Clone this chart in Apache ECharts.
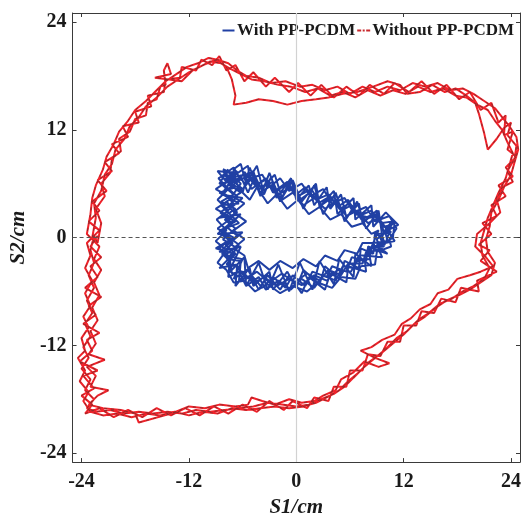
<!DOCTYPE html>
<html>
<head>
<meta charset="utf-8">
<script src="https://cdn.jsdelivr.net/npm/echarts@6/dist/echarts.min.js"></script>
<style>
  html, body { margin: 0; padding: 0; background: #ffffff; }
  #chart { width: 526px; height: 523px; }
</style>
</head>
<body>
<div id="chart"></div>
<script>
// Tick positions shared by both axes (cm)
const tickValues = [-24, -12, 0, 12, 24];
const axisMin = -25;
const axisMax = 25;

// Trajectory with PP-PCDM: laps around the small loop, [S1, S2] in cm
const blueLap1 = [[-7.8,7.0],[-6.5,6.2],[-5.8,7.3],[-4.6,5.8],[-3.5,6.4],[-2.4,5.0],[-1.2,5.9],[0.2,4.6],[1.3,5.2],[2.6,3.9],[3.8,4.6],[5.0,3.0],[6.2,3.6],[7.3,2.0],[8.6,2.6],[9.8,1.2],[10.6,1.4],[9.6,0.2],[9.9,-0.8],[8.4,-1.0],[8.2,-2.4],[6.8,-2.6],[6.1,-3.8],[4.6,-3.6],[3.4,-4.8],[2.0,-4.2],[0.6,-5.3],[-0.8,-4.6],[-2.2,-5.4],[-3.6,-4.4],[-4.8,-5.1],[-6.0,-3.8],[-7.2,-4.0],[-7.4,-2.6],[-8.3,-1.8],[-7.1,-0.6],[-8.4,0.4],[-7.2,1.6],[-8.5,2.8],[-7.0,3.8],[-8.2,5.0],[-7.4,6.2],[-8.0,7.0]];
const blueLap2 = [[-7.2,6.4],[-6.0,5.4],[-5.0,6.6],[-4.0,5.0],[-2.8,5.8],[-1.6,4.2],[-0.4,5.0],[0.8,3.6],[2.0,4.4],[3.2,3.2],[4.4,4.0],[5.6,2.4],[6.8,3.0],[8.0,1.6],[9.2,2.2],[10.2,0.8],[9.0,-0.2],[9.4,-1.4],[7.8,-1.6],[7.4,-2.9],[5.8,-2.9],[5.0,-4.2],[3.6,-3.6],[2.6,-4.8],[1.2,-4.0],[-0.2,-5.0],[-1.6,-4.0],[-3.0,-5.0],[-4.4,-3.8],[-5.6,-4.6],[-6.6,-3.2],[-7.8,-3.0],[-6.8,-1.8],[-7.9,-0.8],[-6.6,0.2],[-7.8,1.2],[-6.4,2.4],[-7.6,3.4],[-6.6,4.6],[-7.8,5.6],[-6.8,6.8]];
const blueLap3 = [[-8.2,7.6],[-6.8,7.0],[-5.4,8.0],[-5.2,6.6],[-3.8,7.0],[-3.0,5.6],[-1.8,6.6],[-0.8,5.2],[0.6,6.0],[1.6,4.6],[3.0,5.4],[4.0,3.8],[5.4,4.4],[6.4,2.8],[7.8,3.4],[8.8,1.8],[10.4,2.4],[11.2,1.0],[10.4,-0.2],[10.6,-1.0],[9.0,-1.6],[8.8,-3.0],[7.2,-3.2],[6.6,-4.6],[5.0,-4.4],[4.0,-5.6],[2.4,-5.0],[1.2,-6.0],[-0.4,-5.4],[-1.8,-6.2],[-3.2,-5.2],[-4.6,-6.0],[-5.8,-4.8],[-7.0,-5.0],[-7.8,-3.6],[-8.8,-2.8],[-7.8,-1.4],[-9.0,-0.4],[-7.8,0.8],[-8.9,2.0],[-7.6,3.0],[-8.8,4.2],[-7.6,5.4],[-8.7,6.6],[-7.4,7.4]];
const blueLap4 = [[-8.4,6.8],[-7.0,7.8],[-6.2,6.4],[-4.8,7.4],[-4.2,5.4],[-2.6,6.2],[-2.0,4.8],[-0.6,5.6],[0.4,4.2],[1.8,5.2],[2.8,3.6],[4.2,4.6],[4.8,3.2],[6.0,3.8],[7.0,2.4],[8.4,3.0],[9.4,1.6],[10.8,1.8],[10.0,0.4],[10.2,-0.4],[8.6,-0.6],[8.0,-2.0],[7.0,-2.0],[6.4,-3.4],[5.2,-3.2],[4.4,-4.8],[3.0,-4.2],[2.0,-5.6],[0.6,-4.6],[-0.6,-5.8],[-2.0,-4.8],[-3.4,-5.8],[-4.2,-4.4],[-5.6,-5.4],[-6.4,-3.8],[-7.6,-4.4],[-7.4,-2.2],[-8.6,-1.2],[-7.4,-0.2],[-8.2,1.0],[-6.8,1.8],[-8.0,2.4],[-6.8,3.2],[-8.4,4.0],[-7.0,4.8],[-8.2,5.8],[-6.6,7.2],[-8.2,7.4]];
const blueLap5 = [[-7.6,6.6],[-5.8,7.0],[-5.0,5.4],[-3.4,6.6],[-2.6,5.0],[-1.0,6.2],[0.0,4.8],[1.0,5.6],[2.2,4.2],[3.6,4.8],[4.6,3.4],[5.8,4.2],[6.6,2.6],[8.2,2.2],[9.0,2.6],[9.6,1.4],[10.6,0.6],[9.2,0.4],[9.8,-1.0],[8.0,-1.2],[7.8,-2.6],[6.2,-2.2],[5.6,-3.8],[4.0,-3.2],[3.4,-4.4],[1.8,-3.8],[1.0,-5.4],[-0.4,-4.2],[-1.2,-5.6],[-2.6,-4.4],[-3.8,-5.6],[-5.0,-4.2],[-6.4,-4.8],[-6.2,-2.6],[-7.8,-2.4],[-6.6,-1.2],[-8.2,-0.2],[-6.8,1.0],[-8.0,2.0],[-6.6,2.8],[-7.8,4.0],[-6.2,5.0],[-7.6,6.0],[-7.0,6.8]];
const blueLap6 = [[-7.0,7.6],[-6.2,8.2],[-5.6,6.0],[-4.4,8.0],[-3.8,5.6],[-2.4,7.0],[-1.6,4.4],[-0.4,6.4],[0.6,4.0],[2.2,6.0],[2.6,3.4],[4.2,5.2],[4.6,2.6],[6.4,4.4],[6.6,2.0],[8.4,3.6],[8.6,1.2],[10.0,2.8],[11.4,1.4],[10.2,0.8],[11.0,-0.4],[9.0,-0.8],[9.6,-2.2],[7.6,-2.0],[7.8,-3.8],[5.8,-3.2],[5.6,-5.0],[3.8,-4.0],[3.2,-5.8],[1.4,-4.4],[0.6,-6.2],[-0.8,-4.2],[-1.8,-5.8],[-3.2,-4.2],[-4.2,-5.8],[-5.4,-3.6],[-6.8,-5.4],[-6.6,-3.0],[-8.6,-3.4],[-7.0,-1.8],[-9.0,-1.2],[-7.0,0.0],[-8.8,1.0],[-7.2,2.2],[-9.0,3.2],[-7.2,4.4],[-9.0,5.4],[-7.8,6.2],[-8.8,7.4],[-7.2,7.2]];
const blueLap7 = [[-8.0,6.4],[-6.6,7.4],[-7.6,5.8],[-6.2,6.8],[-5.4,5.0],[-4.6,6.8],[-3.6,4.8],[-2.8,6.8],[-2.2,4.4],[-0.6,6.6],[0.0,4.2],[1.4,5.8],[2.0,3.6],[3.4,5.6],[3.8,3.2],[5.0,4.8],[5.6,2.2],[7.0,3.8],[7.4,1.6],[9.0,3.0],[9.8,0.6],[10.8,2.0],[10.0,-0.6],[8.8,0.6],[8.6,-1.8],[7.2,-1.2],[7.0,-3.4],[5.4,-2.6],[4.8,-4.6],[3.2,-3.2],[2.6,-5.2],[0.8,-3.6],[0.0,-5.6],[-1.0,-3.8],[-2.6,-5.8],[-3.0,-3.8],[-4.8,-5.4],[-5.2,-3.4],[-7.0,-4.6],[-6.0,-2.4],[-8.0,-2.0],[-6.4,-0.8],[-8.6,0.8],[-6.4,1.6],[-8.4,3.6],[-6.4,3.8],[-8.6,5.0],[-6.8,5.6],[-8.4,6.8]];
const blueLap8 = [[-6.6,5.6],[-5.2,4.2],[-4.4,5.6],[-3.2,3.8],[-2.2,4.8],[-1.0,3.2],[0.2,4.2],[1.4,2.6],[2.6,3.4],[3.8,2.0],[5.0,2.6],[6.2,1.2],[7.4,1.6],[8.4,0.4],[9.2,0.8],[8.6,-0.6],[7.4,-0.6],[6.8,-1.8],[5.4,-1.4],[4.6,-2.6],[3.2,-2.0],[2.2,-3.2],[0.8,-2.4],[-0.4,-3.4],[-1.8,-2.6],[-3.0,-3.6],[-4.2,-2.6],[-5.4,-3.4],[-5.8,-2.0],[-7.0,-1.2],[-5.8,-0.2],[-7.0,0.8],[-5.6,1.8],[-7.0,2.8],[-5.8,3.8],[-7.2,4.6],[-6.2,6.0]];
const blueLap9 = [[-7.4,7.2],[-6.0,5.0],[-5.2,7.8],[-4.0,4.6],[-3.0,7.2],[-1.8,4.0],[-0.6,6.6],[0.8,3.2],[2.0,5.8],[3.0,2.6],[4.4,5.0],[5.4,1.8],[6.8,4.0],[7.8,1.0],[9.2,3.0],[9.6,0.2],[11.0,1.8],[10.8,0.0],[9.2,-1.0],[10.2,-1.8],[8.0,-1.0],[8.4,-3.2],[6.6,-1.8],[6.4,-4.4],[4.8,-2.4],[4.2,-5.2],[2.6,-2.6],[1.8,-5.8],[0.4,-2.8],[-0.8,-6.0],[-2.0,-3.0],[-3.2,-5.8],[-4.2,-2.8],[-5.6,-5.4],[-5.8,-2.2],[-7.6,-4.0],[-6.2,-1.0],[-8.6,-1.6],[-6.0,0.6],[-8.8,0.4],[-6.2,2.6],[-8.6,2.2],[-6.0,4.4],[-8.4,4.8],[-6.4,6.4],[-8.6,6.0],[-7.6,7.6]];

// Trajectory without PP-PCDM: laps around the large loop, [S1, S2] in cm
const redLap1 = [[-22.8,0],[-22.4,2.2],[-22.6,3.8],[-21.8,5.2],[-21.4,7.0],[-20.6,8.2],[-20.2,9.8],[-19.2,11.0],[-18.6,12.4],[-17.6,13.4],[-16.8,14.6],[-15.6,15.6],[-14.4,16.8],[-13.2,17.6],[-12.0,18.4],[-10.8,19.0],[-9.6,19.6],[-8.4,19.4],[-7.4,18.8],[-6.2,18.2],[-5.0,17.6],[-3.6,17.4],[-2.0,17.0],[-0.6,16.8],[1.0,16.2],[2.4,16.6],[3.8,15.8],[5.2,16.2],[6.6,15.6],[8.0,16.4],[9.4,15.8],[10.8,16.4],[12.2,16.0],[13.6,16.8],[15.0,16.2],[16.4,16.6],[17.8,15.8],[19.0,15.6],[20.2,14.8],[21.4,14.2],[22.2,13.0],[23.0,12.0],[23.6,10.6],[24.2,9.4],[23.8,8.0],[23.4,6.6],[22.6,5.0],[22.0,3.6],[21.4,2.2],[21.0,0.8],[20.6,-0.6],[20.8,-2.0],[21.6,-3.4],[21.0,-4.6],[19.8,-5.4],[18.6,-6.0],[17.4,-6.8],[16.0,-7.4],[14.8,-8.4],[13.6,-9.2],[12.4,-10.4],[11.2,-11.2],[10.0,-12.4],[8.8,-13.4],[7.6,-14.4],[6.4,-15.6],[5.4,-16.6],[4.2,-17.4],[2.8,-18.0],[1.4,-18.6],[0.0,-18.8],[-1.6,-18.6],[-3.2,-18.4],[-4.8,-18.8],[-6.4,-19.0],[-8.0,-19.2],[-9.6,-19.4],[-11.2,-19.2],[-12.8,-19.6],[-14.4,-19.4],[-16.0,-19.6],[-17.6,-19.4],[-19.2,-19.6],[-20.8,-19.2],[-22.4,-19.4],[-23.4,-19.0],[-22.6,-18.0],[-23.6,-17.0],[-23.0,-15.8],[-24.0,-14.6],[-23.2,-13.4],[-23.8,-12.2],[-23.0,-11.0],[-23.6,-9.6],[-22.8,-8.4],[-23.4,-7.0],[-22.6,-5.6],[-23.2,-4.2],[-22.6,-2.8],[-23.0,-1.4],[-22.6,0.2]];
const redLap2 = [[-22.2,-0.6],[-21.8,1.6],[-22.4,3.2],[-21.4,4.6],[-21.8,6.0],[-20.8,7.2],[-20.6,8.8],[-19.6,9.6],[-19.8,11.0],[-18.6,11.8],[-18.0,13.2],[-16.8,13.6],[-16.6,15.0],[-15.6,15.4],[-15.2,16.8],[-14.6,17.0],[-14.8,18.6],[-14.4,19.4],[-14.0,18.2],[-15.8,17.8],[-14.2,17.6],[-12.8,17.4],[-11.6,18.6],[-10.4,19.2],[-9.0,19.8],[-7.8,19.0],[-7.2,17.6],[-6.8,15.8],[-7.0,14.8],[-5.6,15.0],[-4.2,15.4],[-2.6,15.2],[-1.0,14.8],[0.6,15.2],[2.2,15.4],[3.6,15.6],[5.2,16.0],[6.8,16.2],[8.6,16.8],[10.2,17.4],[11.6,17.0],[12.4,16.0],[13.8,16.2],[15.2,17.0],[16.6,16.2],[17.8,16.6],[19.0,15.8],[20.0,15.0],[20.4,13.8],[21.0,11.6],[21.4,9.8],[22.4,11.0],[23.2,12.2],[24.0,12.8],[23.6,11.4],[24.6,10.2],[24.4,8.8],[23.6,7.4],[24.2,6.2],[23.0,5.6],[22.4,4.2],[22.8,2.8],[21.6,1.6],[20.2,0.4],[20.0,-1.0],[21.2,-2.2],[22.0,-3.2],[20.6,-3.8],[19.4,-4.2],[18.0,-4.6],[17.0,-5.8],[15.8,-6.2],[15.0,-7.4],[13.8,-8.0],[12.8,-9.0],[11.8,-9.6],[11.0,-10.8],[9.6,-11.4],[8.4,-12.2],[7.2,-12.6],[8.8,-13.4],[10.4,-14.0],[9.2,-14.4],[7.6,-13.8],[6.4,-15.0],[5.0,-15.8],[4.4,-17.0],[3.0,-17.6],[2.0,-18.2],[0.6,-18.4],[-0.8,-18.0],[-2.4,-18.6],[-3.8,-18.2],[-5.0,-17.8],[-5.4,-18.6],[-6.8,-18.8],[-8.6,-18.6],[-10.2,-19.0],[-12.0,-18.8],[-14.0,-19.6],[-17.6,-20.6],[-18.0,-19.6],[-19.6,-19.2],[-21.6,-19.0],[-23.2,-18.6],[-22.2,-17.6],[-21.0,-17.0],[-23.0,-16.6],[-22.4,-15.4],[-23.4,-14.4],[-21.4,-13.6],[-23.2,-13.0],[-22.4,-11.8],[-23.0,-10.4],[-22.2,-9.2],[-22.8,-7.8],[-22.0,-6.4],[-22.6,-5.0],[-21.8,-3.6],[-22.6,-2.4],[-22.0,-1.0]];
const redLap3 = [[-23.4,0.4],[-23.0,2.6],[-22.8,4.4],[-22.4,5.8],[-21.6,7.6],[-21.2,9.0],[-20.4,10.4],[-19.8,11.8],[-18.8,13.0],[-18.0,14.2],[-16.8,15.2],[-15.8,16.2],[-14.6,17.4],[-13.4,18.2],[-12.2,19.0],[-11.0,19.4],[-9.8,20.0],[-8.8,19.8],[-7.6,19.4],[-6.6,18.6],[-5.6,18.0],[-4.2,17.8],[-2.8,17.2],[-1.2,17.4],[0.4,16.8],[1.8,17.0],[3.2,16.4],[4.6,16.8],[6.0,16.0],[7.4,16.8],[8.8,16.2],[10.2,16.8],[11.6,16.4],[13.0,17.2],[14.4,16.8],[15.8,17.2],[17.2,16.4],[18.6,16.6],[19.8,16.0],[21.0,15.2],[22.2,14.4],[23.0,13.4],[23.8,12.4],[24.6,11.2],[24.8,9.8],[24.4,8.4],[24.0,7.0],[23.2,5.6],[22.6,4.2],[21.8,2.8],[21.6,1.2],[21.2,-0.2],[21.4,-1.6],[22.2,-2.8],[21.8,-4.2],[20.6,-5.0],[19.4,-5.8],[18.2,-6.4],[16.8,-7.0],[15.6,-7.8],[14.4,-8.8],[13.2,-9.6],[12.0,-10.8],[10.8,-11.8],[9.6,-12.8],[8.2,-13.8],[7.0,-15.0],[5.8,-16.0],[4.8,-17.0],[3.4,-17.8],[2.2,-18.4],[0.8,-18.8],[-0.8,-19.0],[-2.4,-18.8],[-4.0,-19.0],[-5.6,-19.2],[-7.2,-19.0],[-8.8,-19.6],[-10.4,-19.4],[-12.0,-19.8],[-13.6,-19.4],[-15.2,-19.8],[-16.8,-19.6],[-18.4,-20.0],[-20.0,-19.6],[-21.6,-19.8],[-23.0,-19.4],[-23.8,-18.2],[-23.2,-17.2],[-24.2,-16.0],[-23.6,-14.8],[-24.4,-13.4],[-23.6,-12.6],[-24.0,-11.2],[-23.2,-10.0],[-23.8,-8.8],[-23.0,-7.6],[-23.6,-6.2],[-22.8,-4.8],[-23.6,-3.4],[-23.0,-2.0],[-23.4,-0.6],[-22.8,0.0]];
const redLap4 = [[-22.0,0.8],[-23.2,1.8],[-22.0,3.0],[-22.8,4.0],[-21.2,5.2],[-22.2,6.4],[-20.6,7.4],[-21.4,8.4],[-19.8,9.4],[-20.6,10.4],[-18.8,11.2],[-19.4,12.4],[-17.6,12.8],[-18.0,14.0],[-16.2,14.6],[-16.6,15.8],[-14.8,16.2],[-14.6,17.6],[-13.0,17.8],[-12.8,19.0],[-11.2,18.6],[-10.6,19.8],[-9.4,19.2],[-8.6,20.2],[-7.8,18.6],[-6.8,19.2],[-5.8,17.4],[-4.8,18.4],[-3.4,16.8],[-2.4,17.8],[-0.8,16.2],[0.2,17.2],[1.6,15.8],[2.8,17.0],[4.2,15.6],[5.6,16.8],[7.0,15.8],[8.2,17.0],[9.8,16.0],[11.0,17.2],[12.6,16.2],[14.0,17.4],[15.4,16.0],[16.8,17.0],[18.2,15.4],[19.4,16.2],[20.6,14.2],[21.8,15.0],[22.6,12.8],[23.4,13.6],[23.2,11.4],[24.2,11.8],[23.6,9.8],[24.6,9.0],[23.4,7.8],[24.2,6.8],[22.6,5.8],[23.4,4.6],[21.8,3.6],[22.4,2.4],[20.8,1.6],[21.8,0.4],[20.4,-0.8],[21.6,-1.4],[20.6,-2.6],[22.4,-3.8],[20.2,-4.8],[20.4,-6.0],[18.4,-5.6],[17.8,-7.2],[16.2,-6.8],[15.4,-8.4],[14.0,-8.2],[13.4,-9.8],[12.0,-9.8],[11.6,-11.6],[10.2,-11.6],[9.4,-13.2],[8.0,-13.0],[7.4,-14.8],[6.0,-14.8],[5.6,-16.6],[4.2,-16.6],[3.6,-18.2],[2.0,-17.8],[1.2,-19.0],[-0.4,-18.2],[-1.4,-19.2],[-3.0,-18.2],[-4.4,-19.4],[-6.0,-18.6],[-7.6,-19.6],[-9.2,-18.8],[-10.8,-19.8],[-12.4,-19.0],[-14.0,-19.8],[-15.6,-19.0],[-17.2,-20.0],[-18.8,-19.2],[-20.4,-20.0],[-22.0,-19.0],[-23.6,-19.6],[-22.8,-18.6],[-24.0,-17.6],[-22.6,-16.8],[-23.8,-15.4],[-22.2,-14.8],[-24.2,-13.8],[-22.8,-12.6],[-23.4,-11.4],[-22.0,-10.6],[-23.8,-9.6],[-22.4,-8.6],[-23.2,-7.6],[-21.8,-6.6],[-23.6,-5.6],[-22.2,-4.4],[-23.0,-3.2],[-21.8,-2.2],[-23.0,-1.0],[-22.2,0.2]];

const blueName = 'With PP-PCDM';
const redName = 'Without PP-PCDM';

const blueData = [].concat(blueLap1, blueLap2, blueLap3, blueLap4, blueLap5, blueLap6, blueLap7, blueLap8, blueLap9);
const redData = [].concat(redLap1, redLap2, redLap3, redLap4);

const serif = '"Liberation Serif", "Times New Roman", serif';
const frameColor = '#3a3a3a';
const blueColor = '#2040a4';
const redColor = '#f2222a';
const redDashColor = '#8e2c2c';

function frameAxis(extra) {
  return Object.assign({
    type: 'value',
    min: axisMin,
    max: axisMax,
    axisLine: { show: true, onZero: false, lineStyle: { color: frameColor, width: 1 } },
    axisTick: { show: true, inside: true, length: 4, customValues: tickValues, lineStyle: { color: frameColor } },
    axisLabel: { show: false },
    splitLine: { show: false }
  }, extra);
}

const chart = echarts.init(document.getElementById('chart'), null, { renderer: 'canvas' });

chart.setOption({
  animation: false,
  backgroundColor: '#ffffff',
  grid: { left: 69, right: 6, top: 13, bottom: 57 },
  legend: {
    data: [
      { name: blueName, icon: 'path://M0,0h12v2h-12z', itemStyle: { color: blueColor } },
      { name: redName, icon: 'path://M0,0h4v2h-4z M5.5,0h2v2h-2z M9,0h4v2h-4z', itemStyle: { color: '#c8282c' } }
    ],
    right: 12,
    top: 22,
    padding: 0,
    itemWidth: 13,
    itemHeight: 2,
    itemGap: 2,
    textStyle: { fontFamily: serif, fontWeight: 'bold', fontSize: 17, color: '#1a1a1a', padding: [0, 0, 0, -3] }
  },
  xAxis: [
    frameAxis({
      position: 'bottom',
      name: 'S1/cm',
      nameLocation: 'middle',
      nameGap: 31,
      nameTextStyle: { fontFamily: serif, fontWeight: 'bold', fontStyle: 'italic', fontSize: 21, color: '#1a1a1a' },
      axisLabel: {
        show: true, customValues: tickValues, margin: 10,
        fontFamily: serif, fontWeight: 'bold', fontSize: 20, color: '#1a1a1a'
      }
    }),
    frameAxis({ position: 'top' })
  ],
  yAxis: [
    frameAxis({
      position: 'left',
      name: 'S2/cm',
      nameLocation: 'middle',
      nameGap: 42,
      nameTextStyle: { fontFamily: serif, fontWeight: 'bold', fontStyle: 'italic', fontSize: 21, color: '#1a1a1a' },
      axisLabel: {
        show: true, customValues: tickValues, margin: 6,
        fontFamily: serif, fontWeight: 'bold', fontSize: 20, color: '#1a1a1a'
      }
    }),
    frameAxis({ position: 'right' })
  ],
  series: [
    {
      // solid red body of the large loop, also carries the zero reference lines
      name: 'redBody',
      type: 'line',
      data: redData,
      symbol: 'none',
      z: 2,
      silent: true,
      itemStyle: { color: redColor },
      lineStyle: { color: redColor, width: 2 },
      markLine: {
        silent: true,
        symbol: 'none',
        label: { show: false },
        data: [
          { xAxis: 0, lineStyle: { color: '#d2d2d2', width: 1.2, type: 'solid' } },
          { yAxis: 0, lineStyle: { color: '#555555', width: 1, type: [4, 3] } }
        ]
      }
    },
    {
      name: redName,
      type: 'line',
      data: redData,
      symbol: 'none',
      z: 3,
      itemStyle: { color: '#c8282c' },
      lineStyle: { color: redDashColor, width: 1, type: [3, 4] }
    },
    {
      name: blueName,
      type: 'line',
      data: blueData,
      symbol: 'none',
      z: 4,
      itemStyle: { color: blueColor },
      lineStyle: { color: blueColor, width: 2 }
    }
  ]
});
</script>
</body>
</html>
